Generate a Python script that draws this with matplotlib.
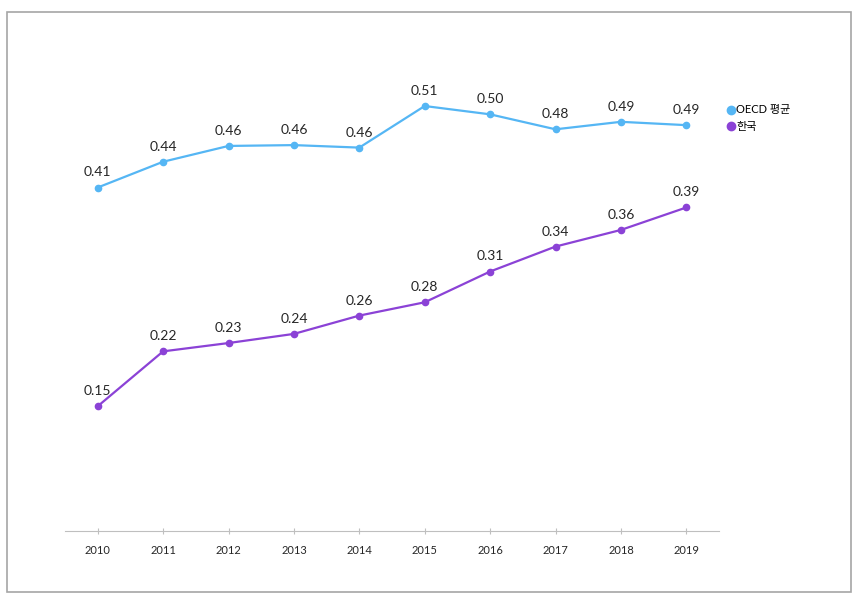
import matplotlib
matplotlib.use("Agg")
import matplotlib.pyplot as plt
from matplotlib.patches import Rectangle
from matplotlib.lines import Line2D

plt.rcParams['font.family'] = ['Lato', 'Noto Sans CJK KR', 'DejaVu Sans']

years = ["2010", "2011", "2012", "2013", "2014", "2015", "2016", "2017", "2018", "2019"]
oecd = [0.413, 0.444, 0.463, 0.464, 0.461, 0.511, 0.501, 0.483, 0.492, 0.488]
korea = [0.150, 0.216, 0.226, 0.237, 0.259, 0.275, 0.312, 0.342, 0.362, 0.389]
series_names = ["OECD 평균", "한국"]

c_oecd = "#55B6F4"
c_kor = "#8B42D6"

fig = plt.figure(figsize=(8.6, 5.99), dpi=100)
fig.patches.append(Rectangle((7/860, 1-592/599), (851-7)/860, (592-12)/599,
                             transform=fig.transFigure, fill=False,
                             edgecolor="#A6A6A6", linewidth=1.2))

ax = fig.add_axes([65/860, 68/599, (719-65)/860, 499/599])
x = list(range(len(years)))
ax.plot(x, oecd, color=c_oecd, lw=1.6, marker='o', ms=4.5)
ax.plot(x, korea, color=c_kor, lw=1.6, marker='o', ms=4.5)

for xi, v in zip(x, oecd):
    ax.annotate(f"{v:.2f}", (xi, v), xytext=(0, 6.5), textcoords="offset points",
                ha="center", va="bottom", fontsize=10, color="#262626")
for xi, v in zip(x, korea):
    ax.annotate(f"{v:.2f}", (xi, v), xytext=(0, 6.5), textcoords="offset points",
                ha="center", va="bottom", fontsize=10, color="#262626")

ax.set_xlim(-0.5, 9.5)
ax.set_ylim(0, 0.6)
ax.set_xticks(x)
ax.set_xticklabels(years, fontsize=8, color="#262626")
ax.set_yticks([])
for s in ["top", "right", "left"]:
    ax.spines[s].set_visible(False)
ax.spines["bottom"].set_color("#BFBFBF")
ax.tick_params(axis="x", length=4, direction="inout", color="#BFBFBF", pad=8)

handles = [Line2D([], [], color=c_oecd, marker='o', ls='none', ms=6),
           Line2D([], [], color=c_kor, marker='o', ls='none', ms=6)]
leg = fig.legend(handles, series_names, loc="upper left",
                 bbox_to_anchor=(722/860, 1-100/599), frameon=False,
                 fontsize=8, handletextpad=0.1, labelspacing=0.5,
                 handlelength=0.8, borderaxespad=0)

fig.savefig("out.png", dpi=100)
